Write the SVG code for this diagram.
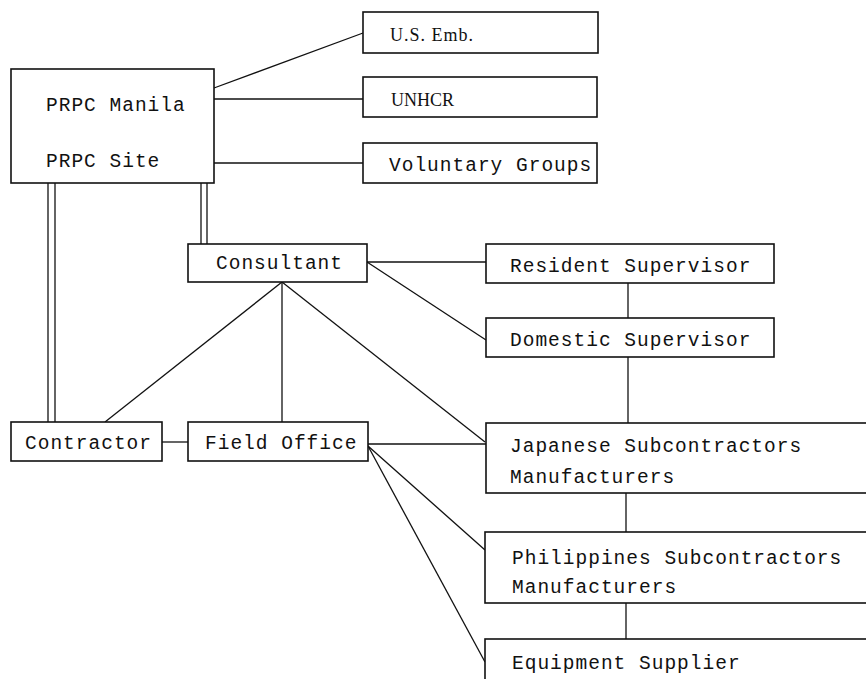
<svg xmlns="http://www.w3.org/2000/svg" width="866" height="679" viewBox="0 0 866 679">
<style>
.box{fill:#fff;stroke:#111;stroke-width:1.6}
.t{font-family:"Liberation Mono","DejaVu Sans Mono",monospace;font-size:19.5px;fill:#111;letter-spacing:1px}
.s{font-family:"Liberation Serif","Times New Roman",serif;font-size:18px;fill:#111}
.c{fill:none;stroke:#111;stroke-width:1.3}
</style>
<rect width="866" height="679" fill="#fff"/>
<g id="connectors">
<line class="c" x1="214" y1="88" x2="363" y2="33"/>
<line class="c" x1="214" y1="99" x2="363" y2="99"/>
<line class="c" x1="214" y1="163" x2="363" y2="163"/>
<line class="c" x1="48" y1="183" x2="48" y2="422"/>
<line class="c" x1="55" y1="183" x2="55" y2="422"/>
<line class="c" x1="201" y1="183" x2="201" y2="244"/>
<line class="c" x1="207" y1="183" x2="207" y2="244"/>
<line class="c" x1="367" y1="262" x2="486" y2="262"/>
<line class="c" x1="367" y1="262" x2="486" y2="340"/>
<line class="c" x1="282" y1="282" x2="105" y2="422"/>
<line class="c" x1="282" y1="282" x2="282" y2="422"/>
<line class="c" x1="282" y1="282" x2="485" y2="442"/>
<line class="c" x1="162" y1="442" x2="188" y2="442"/>
<line class="c" x1="368" y1="444" x2="486" y2="444"/>
<line class="c" x1="368" y1="446" x2="485" y2="550"/>
<line class="c" x1="368" y1="446" x2="485" y2="662"/>
<line class="c" x1="628" y1="283" x2="628" y2="318"/>
<line class="c" x1="628" y1="357" x2="628" y2="423"/>
<line class="c" x1="626" y1="493" x2="626" y2="532"/>
<line class="c" x1="626" y1="603" x2="626" y2="639"/>
</g>
<g id="prpc">
<rect class="box" x="11" y="69" width="203" height="114"/>
<text class="t" x="46" y="111">PRPC Manila</text>
<text class="t" x="46" y="167">PRPC Site</text>
</g>
<g id="usemb">
<rect class="box" x="363" y="12" width="235" height="41"/>
<text class="s" x="390" y="41" letter-spacing="1">U.S. Emb.</text>
</g>
<g id="unhcr">
<rect class="box" x="363" y="77" width="234" height="40"/>
<text class="s" x="391" y="106">UNHCR</text>
</g>
<g id="voluntary">
<rect class="box" x="363" y="143" width="234" height="40"/>
<text class="t" x="389" y="171">Voluntary Groups</text>
</g>
<g id="consultant">
<rect class="box" x="188" y="244" width="179" height="38"/>
<text class="t" x="216" y="269">Consultant</text>
</g>
<g id="contractor">
<rect class="box" x="11" y="422" width="151" height="39"/>
<text class="t" x="25" y="449">Contractor</text>
</g>
<g id="fieldoffice">
<rect class="box" x="188" y="422" width="180" height="39"/>
<text class="t" x="205" y="449">Field Office</text>
</g>
<g id="resident">
<rect class="box" x="486" y="244" width="288" height="39"/>
<text class="t" x="510" y="272">Resident Supervisor</text>
</g>
<g id="domestic">
<rect class="box" x="486" y="318" width="288" height="39"/>
<text class="t" x="510" y="346">Domestic Supervisor</text>
</g>
<g id="japanese">
<rect class="box" x="486" y="423" width="390" height="70"/>
<text class="t" x="510" y="452">Japanese Subcontractors</text>
<text class="t" x="510" y="483">Manufacturers</text>
</g>
<g id="philippines">
<rect class="box" x="485" y="532" width="391" height="71"/>
<text class="t" x="512" y="564">Philippines Subcontractors</text>
<text class="t" x="512" y="593">Manufacturers</text>
</g>
<g id="equipment">
<rect class="box" x="485" y="639" width="391" height="60"/>
<text class="t" x="512" y="669">Equipment Supplier</text>
</g>
</svg>
